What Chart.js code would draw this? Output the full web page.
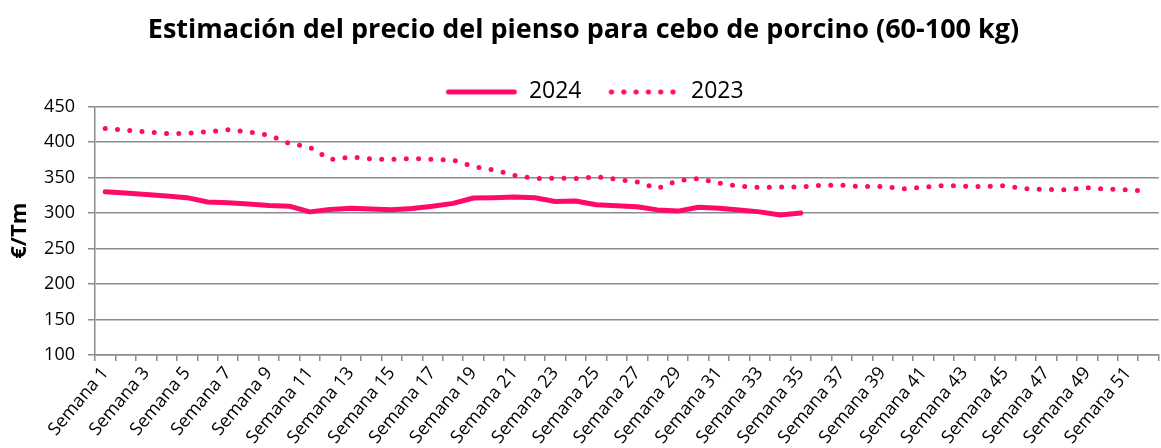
<!DOCTYPE html>
<html>
<head>
<meta charset="utf-8">
<script src="https://cdn.jsdelivr.net/npm/chart.js@4"></script>
<style>
  html, body { margin: 0; padding: 0; background: #fff; overflow: hidden; }
  #wrap { width: 1167px; height: 448px; position: relative; }
</style>
</head>
<body>
<div id="wrap"><canvas id="grafico"></canvas></div>
<script>
// === DATOS ===
const semanas = [];
for (let n = 1; n <= 52; n++) semanas.push("Semana " + n);

const precio2024 = [330, 328, 326, 324, 321.5, 315.5, 314.5, 312.5, 310.5, 309.5,
                    301.5, 305, 306.5, 305.5, 304.5, 306.3, 309.5, 313.5, 321, 321.5,
                    322.3, 321.3, 316.2, 316.7, 311.6, 310, 308.7, 304.3, 302.6, 308,
                    306.5, 304, 301.5, 297, 300];

const precio2023 = [419, 416.5, 414, 412, 412, 414.5, 417, 414, 409.5, 398,
                    392.5, 375, 379, 376, 375.5, 376.5, 375.5, 374.5, 365.5, 360.5,
                    353, 348.5, 349, 348.5, 351, 347.3, 343.5, 334.5, 345.5, 348.5,
                    342, 337.5, 336, 336.5, 336.5, 338.8, 339, 337, 337.3, 334,
                    336, 338.7, 337.5, 337.3, 338.3, 334, 333, 332.7, 335.5, 333.5,
                    332.5, 330.7];

const ticksY = [100, 150, 200, 250, 300, 350, 400, 450];

const ROSA = "#ff0a68";
const GRIS = "#8c8c8c";
const FUENTE = "'Open Sans', 'Liberation Sans', sans-serif";

// === MUESTRAS DE LEYENDA ===
// lienzo de 94 px: hueco a la izquierda y la muestra en los 72 px de la derecha
function muestraLinea() {
    const c = document.createElement("canvas");
    c.width = 94; c.height = 8;
    const g = c.getContext("2d");
    g.strokeStyle = ROSA;
    g.lineWidth = 5;
    g.lineCap = "round";
    g.beginPath(); g.moveTo(25, 4); g.lineTo(91, 4); g.stroke();
    return c;
}

function muestraPuntos() {
    const c = document.createElement("canvas");
    c.width = 94; c.height = 8;
    const g = c.getContext("2d");
    g.fillStyle = ROSA;
    for (let k = 0; k < 6; k++) {
        g.beginPath(); g.arc(26 + k * 12.3, 4, 2.6, 0, Math.PI * 2); g.fill();
    }
    return c;
}

// leyenda mas baja para que quede pegada al area del grafico
const leyendaCompacta = {
    id: "leyendaCompacta",
    beforeLayout(chart) {
        const lg = chart.legend;
        if (!lg || lg._compacta) return;
        const fitOriginal = lg.fit;
        lg.fit = function () {
            fitOriginal.call(this);
            this.height = 30;
        };
        lg._compacta = true;
    }
};

// === GRAFICO ===
new Chart(document.getElementById("grafico"), {
    type: "line",
    data: {
        labels: semanas,
        datasets: [
            {
                label: "2024",
                data: precio2024,
                borderColor: ROSA,
                borderWidth: 5,
                borderCapStyle: "round",
                borderJoinStyle: "round",
                pointRadius: 0,
                tension: 0
            },
            {
                label: "2023",
                data: precio2023,
                borderColor: ROSA,
                borderWidth: 5,
                borderDash: [0, 12.3],
                borderCapStyle: "round",
                pointRadius: 0,
                tension: 0
            }
        ]
    },
    plugins: [leyendaCompacta],
    options: {
        responsive: true,
        maintainAspectRatio: false,
        animation: false,
        layout: { padding: 0 },
        plugins: {
            title: {
                display: true,
                text: "Estimación del precio del pienso para cebo de porcino (60-100 kg)",
                color: "#000",
                font: { family: FUENTE, size: 27, weight: "bold" },
                padding: { top: 14, bottom: 30 }
            },
            legend: {
                display: true,
                labels: {
                    usePointStyle: true,
                    pointStyleWidth: 94,
                    color: "#000",
                    font: { family: FUENTE, size: 23 },
                    padding: 4,
                    generateLabels: chart => chart.data.datasets.map((ds, i) => ({
                        text: ds.label,
                        pointStyle: i === 0 ? muestraLinea() : muestraPuntos(),
                        fillStyle: ROSA,
                        strokeStyle: ROSA,
                        lineWidth: 0,
                        datasetIndex: i
                    }))
                }
            },
            tooltip: { enabled: false }
        },
        scales: {
            x: {
                offset: true,
                grid: {
                    display: true,
                    drawOnChartArea: false,
                    offset: true,
                    color: GRIS,
                    lineWidth: 1.5,
                    tickLength: 6
                },
                border: { display: true, color: GRIS, width: 1.5 },
                ticks: {
                    autoSkip: false,
                    maxRotation: 50,
                    minRotation: 50,
                    color: "#000",
                    font: { family: FUENTE, size: 18 },
                    padding: 2,
                    callback: (v, i) => (i % 2 === 0 ? semanas[i] : "")
                },
                afterFit: s => { s.height = 93; }
            },
            y: {
                min: 100,
                max: 450,
                afterBuildTicks: s => { s.ticks = ticksY.map(v => ({ value: v })); },
                grid: { color: GRIS, lineWidth: 1.5, tickLength: 7 },
                border: { display: true, color: GRIS, width: 1.5 },
                ticks: {
                    color: "#000",
                    font: { family: FUENTE, size: 18 },
                    padding: 13
                },
                title: {
                    display: true,
                    text: "€/Tm",
                    color: "#000",
                    font: { family: FUENTE, size: 22, weight: "bold" },
                    padding: { top: 7, bottom: 0 }
                },
                afterFit: s => { s.width = 95; }
            }
        }
    }
});
</script>
</body>
</html>
